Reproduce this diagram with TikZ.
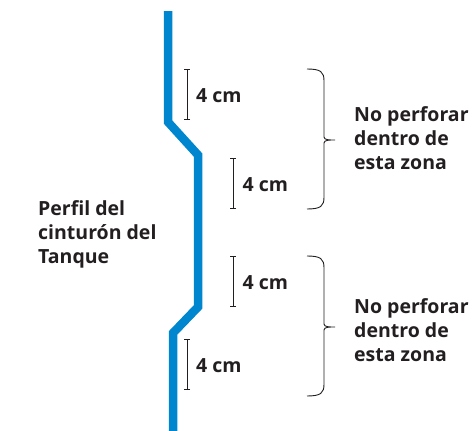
\documentclass[tikz,border=0pt]{standalone}
\usepackage{fontspec}
\setmainfont{Open Sans}
\usepackage{tikz}
\usetikzlibrary{positioning, calc, arrows.meta}
\definecolor{beltblue}{RGB}{0, 133, 207}
\definecolor{inkgray}{RGB}{35, 31, 32}

\begin{document}
\begin{tikzpicture}[x=1pt, y=-1pt, node distance=5pt,
  belt/.style={draw=beltblue, line width=8.5pt, miter limit=10},
  dim/.style={draw=inkgray, line width=0.9pt, {Bar[width=6pt]}-{Bar[width=6pt]}},
  zone/.style={draw=inkgray, line width=0.9pt},
  label/.style={font=\fontsize{19.5}{24.2}\selectfont\bfseries, text=inkgray, align=left, inner sep=0pt}]

\useasboundingbox (0,0) rectangle (475,431);

% belt profile
\coordinate (b1) at (168,11);
\coordinate (b2) at (168,122);
\coordinate (b3) at (198,155);
\coordinate (b4) at (198,307);
\coordinate (b5) at (173,333);
\coordinate (b6) at (173,431);
\draw[belt] (b1) -- (b2) -- (b3) -- (b4) -- (b5) -- (b6);

% 4 cm marks
\coordinate (d1a) at (187,69);
\coordinate (d1b) at (187,120);
\coordinate (d2a) at (233,158);
\coordinate (d2b) at (233,209);
\coordinate (d3a) at (233,256);
\coordinate (d3b) at (233,307);
\coordinate (d4a) at (187,339);
\coordinate (d4b) at (187,390);

\draw[dim] (d1a) -- (d1b);
\draw[dim] (d2a) -- (d2b);
\draw[dim] (d3a) -- (d3b);
\draw[dim] (d4a) -- (d4b);

\coordinate (m1) at ($(d1a)!0.5!(d1b)+(0,1.5)$);
\coordinate (m2) at ($(d2a)!0.5!(d2b)+(0,1.5)$);
\coordinate (m3) at ($(d3a)!0.5!(d3b)+(0,1.5)$);
\coordinate (m4) at ($(d4a)!0.5!(d4b)+(0,1.5)$);

\node[label] (cm1) [right=9pt of m1] {4 cm};
\node[label] (cm2) [right=9.5pt of m2] {4 cm};
\node[label] (cm3) [right=9.5pt of m3] {4 cm};
\node[label] (cm4) [right=9pt of m4] {4 cm};

% zones
\coordinate (z1a) at (307,69);
\coordinate (z1t) at (335,140);
\coordinate (z1b) at (307,209);
\coordinate (z2a) at (307,256);
\coordinate (z2t) at (335,327);
\coordinate (z2b) at (307,396);

\draw[zone] (z1a) .. controls ($(z1a)+(14,0)$) and ($(z1a)+(17,3)$) .. ($(z1a)+(17,12)$)
  -- ($(z1t)+(-11,-3)$) .. controls ($(z1t)+(-11,0)$) and ($(z1t)+(-6,0)$) .. (z1t)
  .. controls ($(z1t)+(-6,0)$) and ($(z1t)+(-11,0)$) .. ($(z1t)+(-11,3)$)
  -- ($(z1b)+(17,-12)$) .. controls ($(z1b)+(17,-3)$) and ($(z1b)+(14,0)$) .. (z1b);
\draw[zone] (z2a) .. controls ($(z2a)+(14,0)$) and ($(z2a)+(17,3)$) .. ($(z2a)+(17,12)$)
  -- ($(z2t)+(-11,-3)$) .. controls ($(z2t)+(-11,0)$) and ($(z2t)+(-6,0)$) .. (z2t)
  .. controls ($(z2t)+(-6,0)$) and ($(z2t)+(-11,0)$) .. ($(z2t)+(-11,3)$)
  -- ($(z2b)+(17,-12)$) .. controls ($(z2b)+(17,-3)$) and ($(z2b)+(14,0)$) .. (z2b);

\node[label, anchor=west] (no1) at (354,138) {No perforar\\dentro de\\esta zona};
\node[label, anchor=west] (no2) at (354,330) {No perforar\\dentro de\\esta zona};
\node[label, anchor=west] (perfil) at (38,234.5) {Perfil del\\cinturón del\\Tanque};

\end{tikzpicture}
\end{document}
